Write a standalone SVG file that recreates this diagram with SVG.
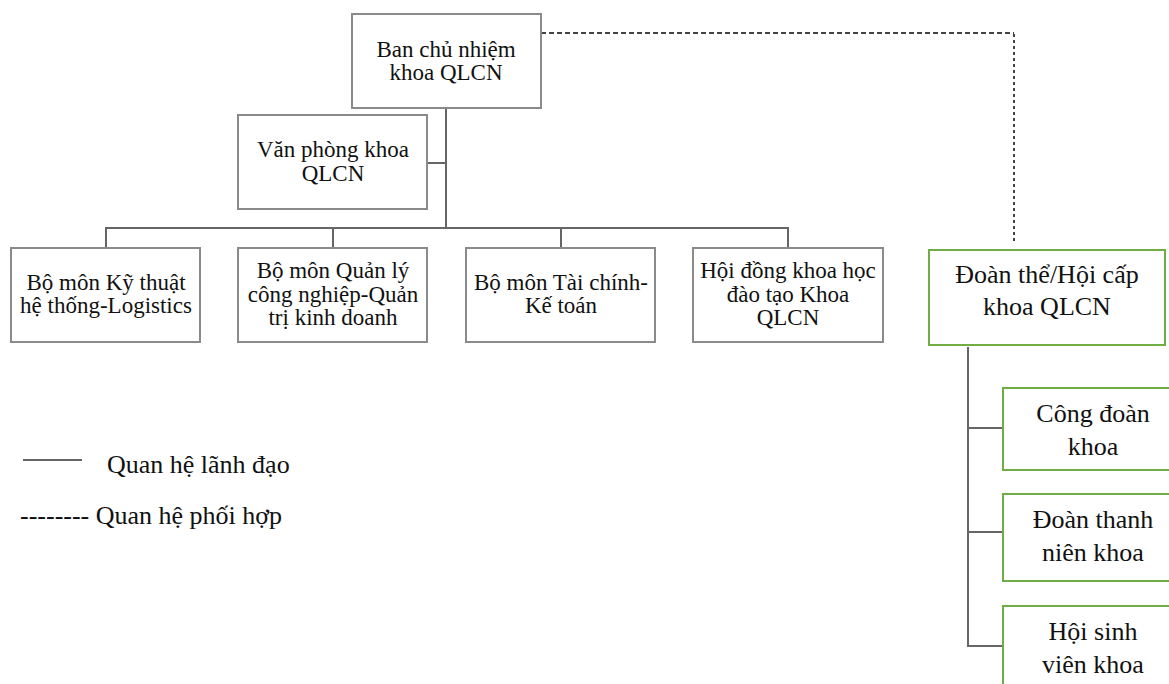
<svg xmlns="http://www.w3.org/2000/svg" width="1169" height="684" viewBox="0 0 1169 684">
<style>
.box{fill:#fff;stroke:#8a8a8a;stroke-width:2}
.gbox{fill:#fff;stroke:#70ad47;stroke-width:2}
.t{font-family:"Liberation Serif","Times New Roman",serif;font-size:23px;fill:#111;text-anchor:middle}
.tg{font-family:"Liberation Serif","Times New Roman",serif;font-size:26px;fill:#111;text-anchor:middle}
.lg{font-family:"Liberation Serif","Times New Roman",serif;font-size:26px;fill:#111}
.ln{fill:none;stroke:#666;stroke-width:2}
</style>
<rect width="1169" height="684" fill="#fff"/>
<g id="connectors">
<path class="ln" d="M446 108V228M427 163H446M106 248V228H788V248M333 228V248M561 228V248"/>
<path fill="none" stroke="#444" stroke-width="2" stroke-dasharray="5,3" d="M541 33H1014"/>
<path fill="none" stroke="#444" stroke-width="2" stroke-dasharray="3,3" d="M1014 34V244"/>
<path class="ln" d="M968 347V646H1003M968 428H1003M968 532H1003"/>
</g>
<g id="n-ban"><rect class="box" x="352" y="14" width="189" height="94"/><text class="t" x="446" y="57">Ban chủ nhiệm</text><text class="t" x="446" y="80">khoa QLCN</text></g>
<g id="n-vanphong"><rect class="box" x="238" y="115" width="189" height="94"/><text class="t" x="333" y="157">Văn phòng khoa</text><text class="t" x="333" y="181">QLCN</text></g>
<g id="n-kythuat"><rect class="box" x="11" y="248" width="189" height="94"/><text class="t" x="106" y="290">Bộ môn Kỹ thuật</text><text class="t" x="106" y="313">hệ thống-Logistics</text></g>
<g id="n-quanly"><rect class="box" x="238" y="248" width="189" height="94"/><text class="t" x="333" y="278">Bộ môn Quản lý</text><text class="t" x="333" y="302">công nghiệp-Quản</text><text class="t" x="333" y="325">trị kinh doanh</text></g>
<g id="n-taichinh"><rect class="box" x="466" y="248" width="189" height="94"/><text class="t" x="561" y="290">Bộ môn Tài chính-</text><text class="t" x="561" y="313">Kế toán</text></g>
<g id="n-hoidong"><rect class="box" x="693" y="248" width="190" height="94"/><text class="t" x="788" y="278">Hội đồng khoa học</text><text class="t" x="788" y="302">đào tạo Khoa</text><text class="t" x="788" y="325">QLCN</text></g>
<g id="n-doanthe"><rect class="gbox" x="929" y="250" width="236" height="95"/><text class="tg" x="1047" y="283">Đoàn thể/Hội cấp</text><text class="tg" x="1047" y="315">khoa QLCN</text></g>
<g id="n-congdoan"><rect class="gbox" x="1003" y="388" width="180" height="82"/><text class="tg" x="1093" y="422">Công đoàn</text><text class="tg" x="1093" y="455">khoa</text></g>
<g id="n-doanthanhnien"><rect class="gbox" x="1003" y="494" width="180" height="87"/><text class="tg" x="1093" y="528">Đoàn thanh</text><text class="tg" x="1093" y="561">niên khoa</text></g>
<g id="n-hoisinhvien"><rect class="gbox" x="1003" y="606" width="180" height="90"/><text class="tg" x="1093" y="640">Hội sinh</text><text class="tg" x="1093" y="673">viên khoa</text></g>
<g id="legend">
<line x1="23" y1="460" x2="82" y2="460" stroke="#666" stroke-width="2"/>
<text class="lg" x="107" y="473">Quan hệ lãnh đạo</text>
<text class="lg" x="20" y="524">-------- Quan hệ phối hợp</text>
</g>
</svg>
